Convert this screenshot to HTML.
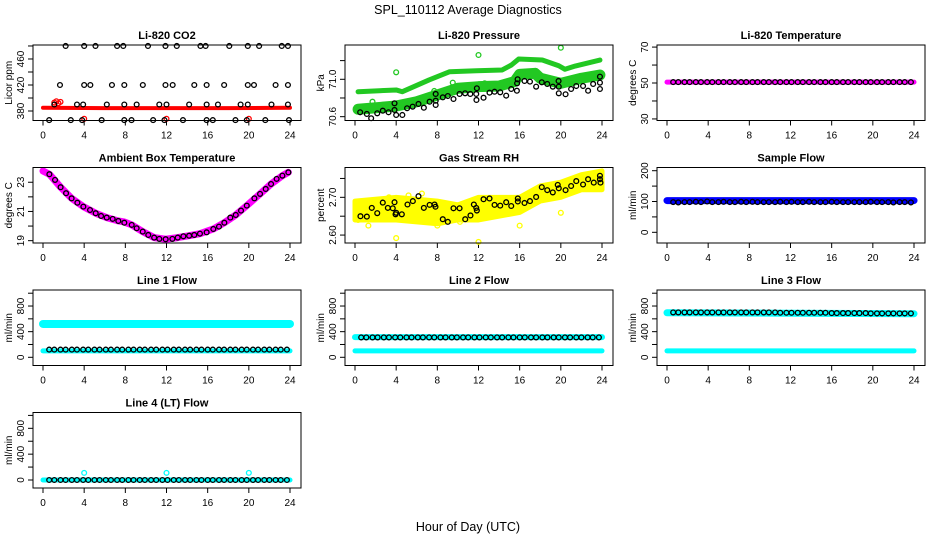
<!DOCTYPE html>
<html><head><meta charset="utf-8"><style>
body{margin:0;background:#fff;}
svg{display:block;font-family:"Liberation Sans",sans-serif;}
.tk{font-size:10px;}
.tt{font-size:11px;font-weight:bold;}
</style></head><body>
<svg id="chart" width="936" height="540" viewBox="0 0 936 540" xmlns="http://www.w3.org/2000/svg">
<rect width="936" height="540" fill="#fff"/>
<text x="468" y="14" text-anchor="middle" font-size="12.5">SPL_110112  Average Diagnostics</text>
<text x="468" y="531" text-anchor="middle" font-size="12.5">Hour of Day (UTC)</text>
</svg>
<script>
// ---------- data ----------
const hrs=[0.6,1.1,1.7,2.2,2.8,3.3,3.9,4.4,5.0,5.5,6.1,6.6,7.2,7.7,8.3,8.8,9.4,9.9,10.5,11.0,11.6,12.1,12.7,13.2,13.8,14.3,14.9,15.4,16.0,16.5,17.1,17.6,18.2,18.7,19.3,19.8,20.4,20.9,21.5,22.0,22.6,23.1,23.7];
const xTicks=[0,4,8,12,16,20,24];
// CO2
const co2Hrs=[2.2,4.0,5.1,7.2,7.8,10.2,11.9,13.0,15.3,15.8,18.1,19.9,21.0,23.2,23.8,
1.65,4.0,4.6,6.7,7.9,9.7,11.9,12.6,14.7,15.9,17.6,19.9,20.5,22.6,23.8,
1.1,3.3,3.9,6.2,7.9,9.1,11.3,12.0,14.2,15.9,17.0,19.2,19.9,22.2,23.8,
0.6,2.7,3.8,5.7,7.9,8.6,10.7,11.8,13.6,15.9,16.5,18.7,19.8,21.6,23.9];
const co2Vals=[480,480,480,480,480,480,480,480,480,480,480,480,480,480,480,
420,420,420,420,420,420,420,420,420,420,420,420,420,420,420,
390,390,390,390,390,390,390,390,390,390,390,390,390,390,390,
366,366,366,366,366,366,366,366,366,366,366,366,366,366,366];
const co2BandHrs=[0,6,12,18,24];
const co2BandVals=[385,384.5,384.5,384.5,385];
const co2RedHrs=[1.1,1.3,1.5,1.7,4.0,12.0,20.0];
const co2RedVals=[393,395,392,394,368,368,368];
// Pressure
const prHrs=[0.5,1.15,1.57,2.16,2.7,3.26,3.84,3.84,4.0,4.6,5.06,5.6,6.17,6.69,7.25,7.84,7.84,7.84,8.53,9.02,9.57,10.16,10.7,11.2,11.78,11.8,11.84,12.49,13.07,13.56,14.11,14.69,15.18,15.73,15.75,15.8,16.47,17.0,17.6,18.15,18.68,19.22,19.78,19.8,19.8,20.46,21.0,21.5,22.16,22.65,23.14,23.8,23.8,23.8];
const prVals=[70.647,70.629,70.583,70.636,70.664,70.647,70.672,70.743,70.618,70.618,70.69,70.707,70.736,70.696,70.76,70.771,70.725,70.843,70.807,70.821,70.789,70.843,70.85,70.843,70.843,70.779,70.904,70.803,70.857,70.867,70.861,70.825,70.896,70.878,70.957,71.0,70.982,70.975,70.921,70.968,70.95,70.921,70.982,70.85,70.921,70.84,70.896,70.928,70.928,70.878,70.95,71.028,70.964,70.896];
const prUpHrs=[0.3,4.0,4.6,7.2,9.2,11.8,14.3,15.2,15.9,18.2,19.8,20.4,21.4,23.8];
const prUpVals=[70.867,70.886,70.867,70.993,71.081,71.092,71.1,71.153,71.217,71.206,71.145,71.107,71.142,71.206];
const prLoHrs=[0.3,4,6,8,10,12,14,15.5,16,17.5,18,20,22,23.8];
const prLoVals=[70.679,70.714,70.76,70.832,70.904,70.921,70.928,70.975,71.053,71.064,71.011,70.957,71.011,71.046];
const prOutHrs=[4.0,12.0,20.0,1.7,9.5,12.6,7.7];
const prOutVals=[71.075,71.26,71.338,70.76,70.964,70.957,70.875];
// Li-820 temperature
const tmpVals=[50.5,50.5,50.5,50.5,50.5,50.5,50.5,50.5,50.5,50.5,50.5,50.5,50.5,50.5,50.5,50.5,50.5,50.5,50.5,50.5,50.5,50.5,50.5,50.5,50.5,50.5,50.5,50.5,50.5,50.5,50.5,50.5,50.5,50.5,50.5,50.5,50.5,50.5,50.5,50.5,50.5,50.5,50.5];
const tmpBandHrs=[0,24];
const tmpBandVals=[50.5,50.5];
// Ambient
const ambHrs=[0.62,1.17,1.71,2.24,2.78,3.34,3.92,4.57,5.12,5.64,6.19,6.77,7.32,7.9,8.62,9.1,9.69,10.23,10.8,11.3,11.92,12.57,13.09,13.64,14.2,14.7,15.25,15.9,16.55,17.1,17.62,18.2,18.73,19.24,19.8,20.54,21.09,21.64,22.16,22.7,23.26,23.84];
const ambVals=[23.55,23.16,22.66,22.25,21.9,21.6,21.33,21.1,20.88,20.69,20.58,20.49,20.35,20.23,20.08,19.85,19.62,19.39,19.21,19.12,19.1,19.12,19.21,19.3,19.34,19.39,19.48,19.57,19.8,19.96,20.23,20.58,20.76,21.06,21.4,21.9,22.2,22.54,22.88,23.23,23.45,23.68];
const ambBandHrs=[0,0.62,1.71,2.78,3.92,5.12,6.19,7.32,7.9,8.62,9.69,10.8,11.92,13.09,14.2,15.25,16.55,17.62,18.73,19.8,21.09,22.16,23.26,23.84];
const ambBandVals=[23.77,23.55,22.66,21.9,21.33,20.88,20.58,20.35,20.28,20.08,19.62,19.21,19.1,19.21,19.34,19.48,19.8,20.23,20.76,21.4,22.2,22.88,23.45,23.68];
// RH
const rhHrs=[0.53,1.15,1.63,2.16,2.7,3.19,3.67,3.84,3.94,4.0,4.55,5.1,5.62,6.17,6.69,7.25,7.73,7.82,8.53,9.02,9.57,10.16,10.71,11.22,11.55,11.78,11.84,12.49,13.07,13.56,14.11,14.69,15.18,15.82,15.82,16.47,17.0,17.6,18.15,18.68,19.22,19.7,19.8,20.46,21.0,21.5,22.16,22.65,23.2,23.8,23.8,23.85];
const rhVals=[2.650,2.649,2.672,2.658,2.686,2.672,2.671,2.687,2.655,2.659,2.655,2.681,2.690,2.703,2.672,2.680,2.681,2.675,2.642,2.635,2.671,2.671,2.642,2.652,2.681,2.672,2.665,2.695,2.697,2.680,2.678,2.687,2.677,2.697,2.689,2.685,2.690,2.701,2.727,2.719,2.713,2.733,2.724,2.719,2.730,2.743,2.734,2.748,2.739,2.757,2.748,2.739];
const rhBandHrs=[0,4,8,10,12,14,16,18,20,22,24];
const rhBandLo=[2.64,2.64,2.63,2.64,2.64,2.65,2.66,2.69,2.70,2.72,2.72];
const rhBandHi=[2.69,2.70,2.69,2.68,2.70,2.70,2.70,2.73,2.74,2.76,2.77];
const rhOutHrs=[12.0,4.0,20.0,0.3,5.2,8.0,3.3,16.0,23.6,1.3,10.2,6.5];
const rhOutVals=[2.582,2.592,2.659,2.64,2.705,2.625,2.70,2.625,2.76,2.625,2.635,2.71];
// Sample flow
const sfVals=[98,97,98,98,99,98,100,98,98,99,98,98,99,98,99,98,98,98,98,99,98,99,98,98,99,98,98,98,99,98,98,98,98,98,98,99,98,98,98,97,98,98,97];
const sfBandHrs=[0,24];
const sfBandVals=[103,103];
// Line flows
const l1Vals=[120,120,120,120,120,120,120,120,120,120,120,120,120,120,120,120,120,120,120,120,120,120,120,120,120,120,120,120,120,120,120,120,120,120,120,120,120,120,120,120,120,120,120];
const l1HiBand=[520,520];
const l2Vals=[310,310,310,310,310,310,310,310,310,310,310,310,310,310,310,310,310,310,310,310,310,310,310,310,310,310,310,310,310,310,310,310,310,310,310,310,310,310,310,310,310,310,310];
const l2HiBand=[315,315];
const l3Vals=[700,700,700,700,700,700,700,700,700,700,700,700,700,700,700,700,700,700,700,695,695,695,695,695,695,695,695,695,690,690,690,690,690,690,690,685,685,685,685,685,685,685,685];
const l3HiBand=[695,680];
const l4Vals=[0,0,0,0,0,0,0,0,0,0,0,0,0,0,0,0,0,0,0,0,0,0,0,0,0,0,0,0,0,0,0,0,0,0,0,0,0,0,0,0,0,0,0];
const lowBand=[100,100];
const l4BandVals=[0,0];
const l4OutHrs=[4.0,12.0,20.0];
const l4OutVals=[110,110,110];
const flowBandHrs=[0,24];

// ---------- rendering ----------
const svg=document.getElementById('chart');
const NS='http://www.w3.org/2000/svg';
function mk(tag,attrs,parent){const e=document.createElementNS(NS,tag);for(const k in attrs)e.setAttribute(k,attrs[k]);(parent||svg).appendChild(e);return e;}
const rowTop=[45,167.5,290,412.5];
function panel(r,c,title,ylab,ylo,yhi,ticks,labels,name){
  const x1=33+312*c,x2=301+312*c,y1=rowTop[r],y2=y1+75.5;
  const g=mk('g',{});
  
  
  const P={g,x:h=>x1+10+h*247/24,y:v=>y2-(v-ylo)/(yhi-ylo)*(y2-y1)};
  const t=mk('text',{x:(x1+x2)/2,y:y1-6,'text-anchor':'middle',class:'tt'},g);t.textContent=title;
  
  
  const yl=mk('text',{transform:`translate(${x1-21},${(y1+y2)/2}) rotate(-90)`,'text-anchor':'middle',class:'tk'},g);yl.textContent=ylab;
  
  
  // x axis
  mk('line',{x1:P.x(0),x2:P.x(24),y1:y2,y2:y2,stroke:'#000'},g);
  xTicks.forEach(h=>{mk('line',{x1:P.x(h),x2:P.x(h),y1:y2,y2:y2+5,stroke:'#000'},g);
    const tx=mk('text',{x:P.x(h),y:y2+18,'text-anchor':'middle',class:'tk'},g);tx.textContent=h;
    
    });
  mk('line',{x1:x1,x2:x1,y1:P.y(ticks[0]),y2:P.y(ticks[ticks.length-1]),stroke:'#000'},g);
  ticks.forEach((v,i)=>{const yy=P.y(v);mk('line',{x1:x1-5,x2:x1,y1:yy,y2:yy,stroke:'#000'},g);
    if(labels[i]){const ty=mk('text',{transform:`translate(${x1-9},${yy}) rotate(-90)`,'text-anchor':'middle',class:'tk'},g);ty.textContent=labels[i];
    
    }});
  P.box=()=>mk('rect',{x:x1,y:y1,width:x2-x1,height:y2-y1,fill:'none',stroke:'#000'},g);
  return P;
}
function band(P,hs,vs,color,w){
  const pl=mk('polyline',{points:hs.map((h,i)=>P.x(h)+','+P.y(vs[i])).join(' '),fill:'none',stroke:color,'stroke-width':w,'stroke-linecap':'round','stroke-linejoin':'round'},P.g);
  
  
}
function area(P,hs,lo,hi,color){
  const pts=hs.map((h,i)=>P.x(h)+','+P.y(hi[i])).concat(hs.map((h,i)=>P.x(h)+','+P.y(lo[i])).reverse());
  const pg=mk('polygon',{points:pts.join(' '),fill:color,stroke:color,'stroke-width':5,'stroke-linejoin':'round'},P.g);
  
  
}
function pts(P,hs,vs,color){
  hs.forEach((h,i)=>{const c=mk('circle',{cx:P.x(h),cy:P.y(vs[i]),r:2.4,fill:'none',stroke:color,'stroke-width':1.3},P.g);
    
    });
}
const flowTicks=[0,200,400,600,800,1000],flowLab=['0','','400','','800',''];
let P;
P=panel(0,0,'Li-820 CO2','Licor ppm',365.4,481.5,[380,400,420,440,460,480],['380','','420','','460',''],'panel-co2');
band(P,co2BandHrs,co2BandVals,'#f00',4);pts(P,co2RedHrs,co2RedVals,'#f00');pts(P,co2Hrs,co2Vals,'#000');P.box();
P=panel(0,1,'Li-820 Pressure','kPa',70.559,71.367,[70.6,70.8,71.0,71.2],['70.6','','71.0',''],'panel-pressure');
band(P,prUpHrs,prUpVals,'#22c822',5);band(P,prLoHrs,prLoVals,'#22c822',11);pts(P,prOutHrs,prOutVals,'#22c822');pts(P,prHrs,prVals,'#000');P.box();
P=panel(0,2,'Li-820 Temperature','degrees C',29.13,71.16,[30,40,50,60,70],['30','','50','','70'],'panel-temperature');
band(P,tmpBandHrs,tmpBandVals,'#f0f',5);pts(P,hrs,tmpVals,'#000');P.box();
P=panel(1,0,'Ambient Box Temperature','degrees C',18.84,24.01,[19,20,21,22,23],['19','','21','','23'],'panel-ambient');
band(P,ambBandHrs,ambBandVals,'#f0f',7);pts(P,ambHrs,ambVals,'#000');P.box();
P=panel(1,1,'Gas Stream RH','percent',2.579,2.779,[2.60,2.65,2.70,2.75],['2.60','','2.70',''],'panel-rh');
area(P,rhBandHrs,rhBandLo,rhBandHi,'#ffff00');pts(P,rhOutHrs,rhOutVals,'#ffff00');pts(P,rhHrs,rhVals,'#000');P.box();
P=panel(1,2,'Sample Flow','ml/min',-34.7,210.4,[0,50,100,150,200],['0','','100','','200'],'panel-sample-flow');
band(P,sfBandHrs,sfBandVals,'#0000ff',7);pts(P,hrs,sfVals,'#000');P.box();
P=panel(2,0,'Line 1 Flow','ml/min',-128,1050,flowTicks,flowLab,'panel-line1');
band(P,flowBandHrs,l1HiBand,'#00ffff',8);band(P,flowBandHrs,lowBand,'#00ffff',5);pts(P,hrs,l1Vals,'#000');P.box();
P=panel(2,1,'Line 2 Flow','ml/min',-128,1050,flowTicks,flowLab,'panel-line2');
band(P,flowBandHrs,l2HiBand,'#00ffff',6);band(P,flowBandHrs,lowBand,'#00ffff',5);pts(P,hrs,l2Vals,'#000');P.box();
P=panel(2,2,'Line 3 Flow','ml/min',-128,1050,flowTicks,flowLab,'panel-line3');
band(P,flowBandHrs,l3HiBand,'#00ffff',7);band(P,flowBandHrs,lowBand,'#00ffff',5);pts(P,hrs,l3Vals,'#000');P.box();
P=panel(3,0,'Line 4 (LT) Flow','ml/min',-124,1045,flowTicks,flowLab,'panel-line4');
band(P,flowBandHrs,l4BandVals,'#00ffff',5);pts(P,l4OutHrs,l4OutVals,'#00ffff');pts(P,hrs,l4Vals,'#000');P.box();
</script>
</body></html>
